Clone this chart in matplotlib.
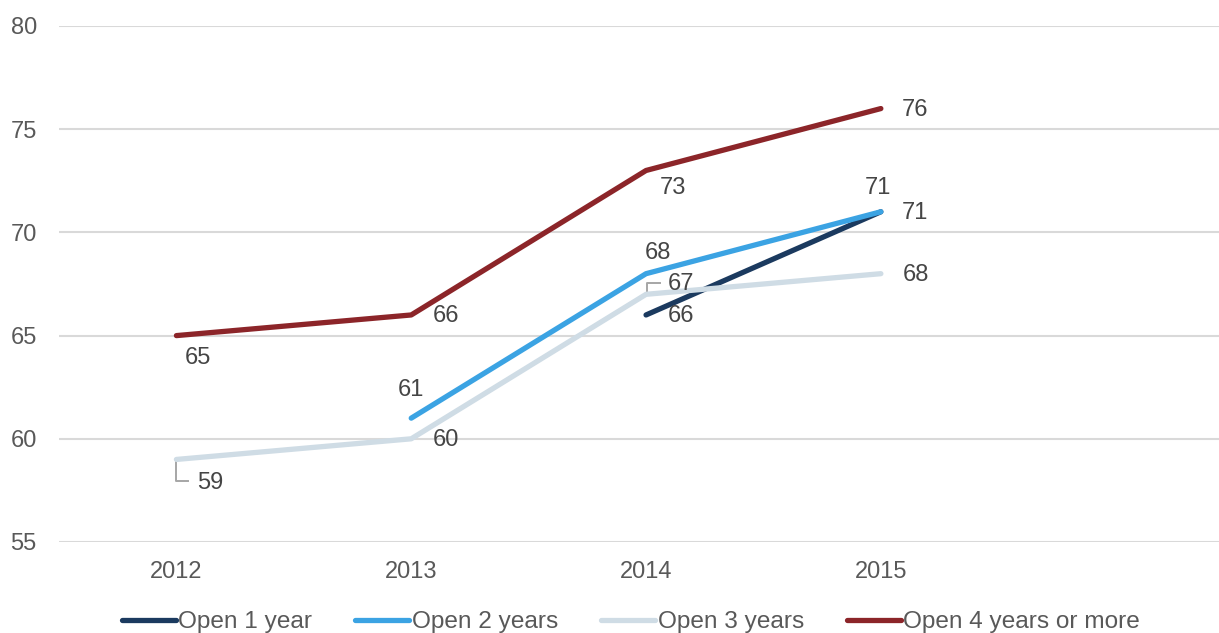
import numpy as np
import matplotlib.pyplot as plt
import matplotlib.transforms as mtransforms

plt.rcParams['font.family'] = ['Liberation Sans', 'DejaVu Sans']

years = ['2012', '2013', '2014', '2015']
series_names = ['Open 1 year', 'Open 2 years', 'Open 3 years', 'Open 4 years or more']
open_1 = [np.nan, np.nan, 66, 71]
open_2 = [np.nan, 61, 68, 71]
open_3 = [59, 60, 67, 68]
open_4 = [65, 66, 73, 76]
colors = ['#1B3A5F', '#3BA3E3', '#CFDCE5', '#8C2529']

# label offsets in pixels (dx right, dy up) per series / point
label_offsets = [
    [None, None, (35, -1), (34, -1)],
    [None, (0, 28), (12, 21), (-3, 24)],
    [(34, -24), (35, -1), (35, 10), (35, -1)],
    [(22, -22), (35, -1), (27, -18), (34, -1)],
]

fig = plt.figure(figsize=(12.19, 6.33), dpi=100)
ax = fig.add_axes([59 / 1219, 1 - 542 / 633, 1 - 59 / 1219, (542 - 26) / 633])

x = np.arange(len(years))
all_series = [open_1, open_2, open_3, open_4]
for vals, name, c in zip(all_series, series_names, colors):
    ax.plot(x, vals, color=c, lw=3.8, solid_capstyle='round', label=name, zorder=3)

for vals, offs in zip(all_series, label_offsets):
    for i, v in enumerate(vals):
        if offs[i] is None or np.isnan(v):
            continue
        ax.annotate(f'{v:.0f}', (x[i], v), xytext=offs[i], textcoords='offset pixels',
                    ha='center', va='center', fontsize=17, color='#454545', zorder=4)

ax.set_xlim(-0.5, 4.44)
ax.set_ylim(55, 80)

# leader lines for the two shifted labels
def leader(xi, yi, pts):
    tr = mtransforms.IdentityTransform() + mtransforms.ScaledTranslation(xi, yi, ax.transData)
    px, py = zip(*pts)
    ax.plot(px, py, color='#A6A6A6', lw=1.4, transform=tr, zorder=2, clip_on=False)

leader(0, 59, [(0, -3), (0, -22), (12, -22)])
leader(2, 67, [(1, 2), (1, 11), (14, 11)])

ax.set_yticks([55, 60, 65, 70, 75, 80])
ax.set_xticks(x)
ax.set_xticklabels(years)
ax.tick_params(axis='both', length=0, labelsize=17, colors='#595959')
ax.tick_params(axis='y', pad=16)
ax.tick_params(axis='x', pad=14)
ax.grid(axis='y', color='#D9D9D9', lw=1.5)
ax.set_axisbelow(True)
for s in ax.spines.values():
    s.set_visible(False)

fig.legend(loc='center', bbox_to_anchor=(631 / 1219, 1 - 622 / 633), ncol=4, frameon=False,
           fontsize=17.6, labelcolor='#595959', handlelength=2.2, handletextpad=0.12,
           columnspacing=1.75)

fig.savefig('out.png', dpi=100)
